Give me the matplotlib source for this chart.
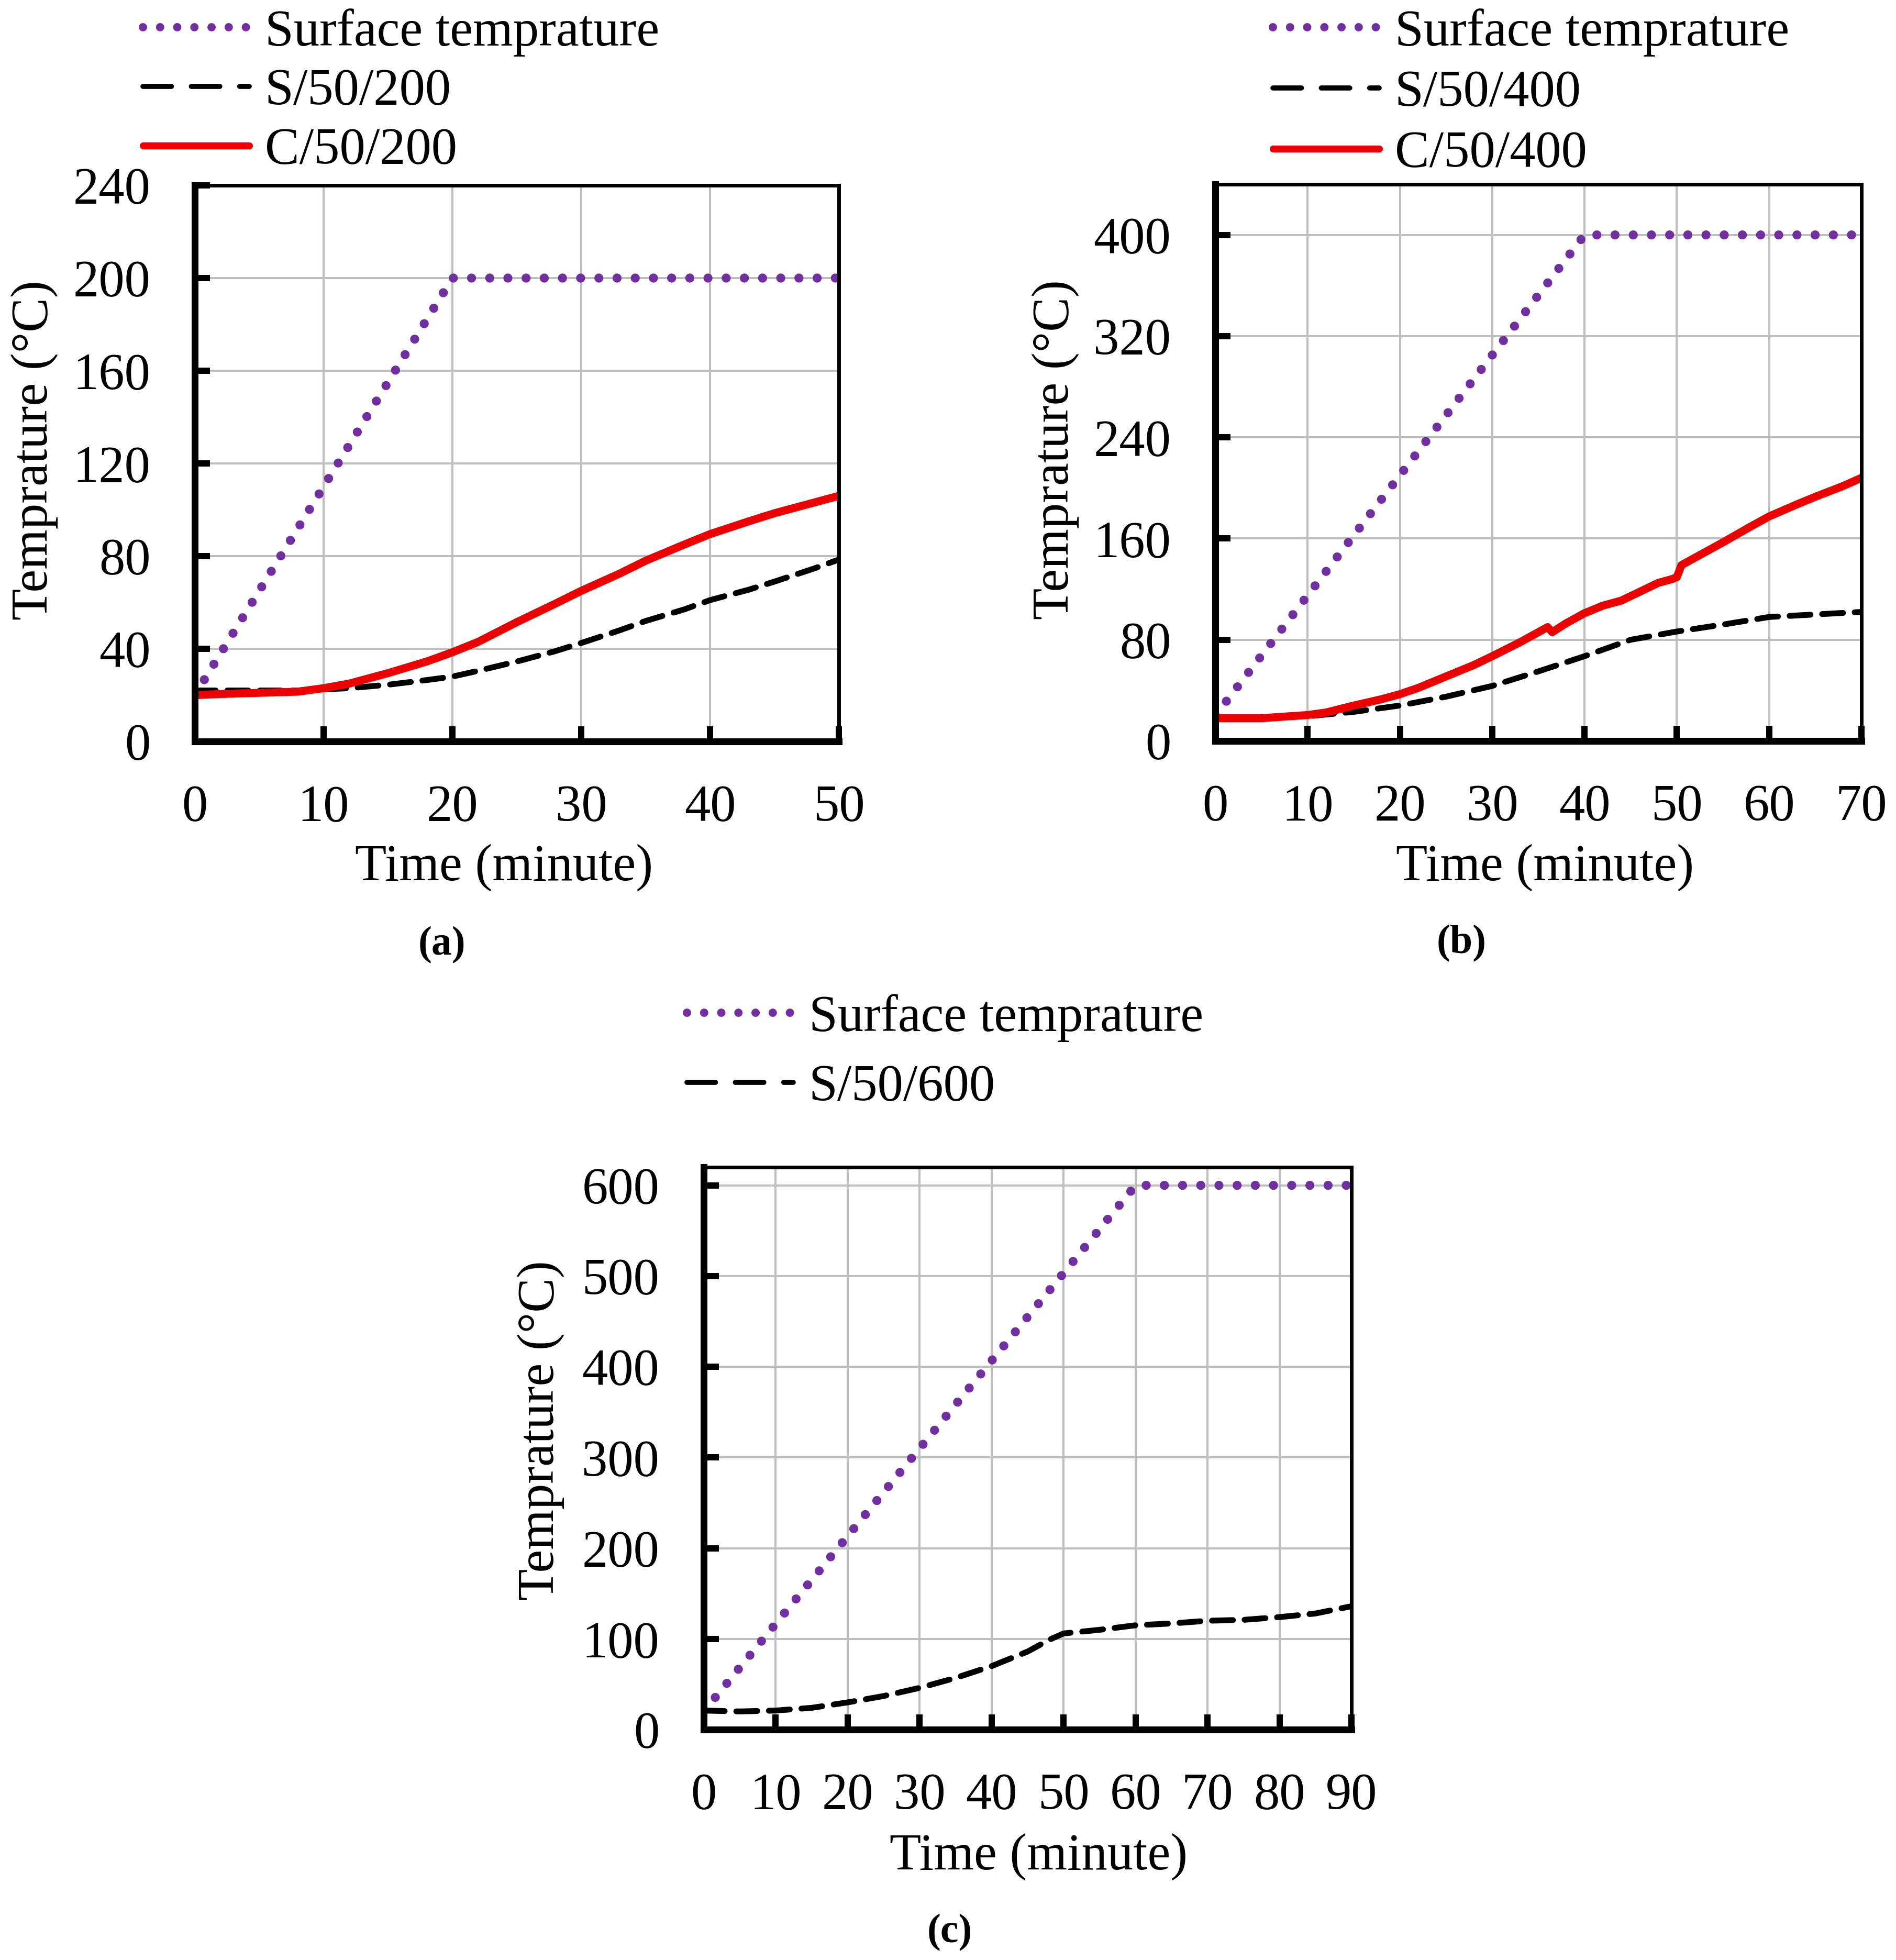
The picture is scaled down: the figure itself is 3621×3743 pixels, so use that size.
import matplotlib
matplotlib.use("Agg")
import matplotlib.pyplot as plt
from matplotlib.lines import Line2D

plt.rcParams['font.family'] = ['Liberation Serif', 'DejaVu Serif']

# ---------------- data ----------------
# Panel (a)
a_surf_t = [0, 20, 50]
a_surf_T = [20, 200, 200]
a_s_t = [0, 5, 8, 10, 12, 15, 18, 20, 22, 25, 28, 30, 33, 35, 38, 40, 43, 45, 48, 50]
a_s_T = [22, 22, 22, 22.5, 23, 24.5, 26.5, 28, 30.5, 34.5, 39, 42.5, 48, 52, 57, 61, 65.5, 69, 74.5, 78.5]
a_c_t = [0, 2, 5, 8, 10, 12, 15, 18, 20, 22, 25, 28, 30, 33, 35, 38, 40, 43, 45, 48, 50]
a_c_T = [20, 20.5, 21, 21.5, 23, 25, 29.5, 34.5, 38.5, 43, 51.5, 59.5, 65, 72.5, 78, 85, 89.5, 95, 98.5, 103, 106]

# Panel (b)
b_surf_t = [0, 40, 70]
b_surf_T = [20, 400, 400]
b_s_t = [0, 5, 10, 15, 20, 25, 30, 35, 40, 45, 50, 55, 60, 65, 70]
b_s_T = [18, 18.5, 19.5, 23, 28, 35, 43.5, 55, 67, 80, 86.5, 92, 98, 100, 102]
b_c_t = [0, 5, 10, 12, 15, 18, 20, 22, 25, 28, 30, 33, 35, 36, 36.5, 38, 40, 42, 44, 46, 48,
         49.5, 50, 50.5, 52, 55, 58, 60, 63, 65, 68, 70]
b_c_T = [18, 18, 20.5, 22.5, 28, 33, 37, 42, 51, 60, 67, 78, 86, 90, 86, 93, 101, 107, 111, 118, 125,
         128, 129.5, 139, 145, 157, 169.5, 177.5, 187, 193, 201.5, 208]

# Panel (c)
c_surf_t = [0, 60, 90]
c_surf_T = [20, 600, 600]
c_s_t = [0, 5, 10, 15, 20, 25, 30, 35, 40, 45, 48, 50, 55, 60, 65, 70, 75, 80, 85, 90]
c_s_T = [21, 20, 21, 24, 30, 37, 46, 57, 70, 86, 99, 106, 110, 115, 117, 120, 121, 124, 128, 136]

labels_a = ['Surface temprature', 'S/50/200', 'C/50/200']
labels_b = ['Surface temprature', 'S/50/400', 'C/50/400']
labels_c = ['Surface temprature', 'S/50/600']

xticks_a = [0, 10, 20, 30, 40, 50]
yticks_a = [0, 40, 80, 120, 160, 200, 240]
xticks_b = [0, 10, 20, 30, 40, 50, 60, 70]
yticks_b = [0, 80, 160, 240, 320, 400]
xticks_c = [0, 10, 20, 30, 40, 50, 60, 70, 80, 90]
yticks_c = [0, 100, 200, 300, 400, 500, 600]

# ---------------- style ----------------
W, H = 3621, 3743
DPI = 100
FS = 71
PURPLE = '#7030A0'
RED = '#EE0000'
GRID = '#BFBFBF'

fig = plt.figure(figsize=(W / DPI, H / DPI), dpi=DPI)


def px_ax(left, top, right, bottom):
    return fig.add_axes([left / W, 1 - bottom / H, (right - left) / W, (bottom - top) / H])


def style_axes(ax, xt, yt, xlim, ylim, xlab_pos, ylab_pos):
    ax.set_xlim(*xlim)
    ax.set_ylim(*ylim)
    ax.set_xticks(xt)
    ax.set_yticks(yt)
    ax.grid(True, color=GRID, linewidth=2.9)
    ax.set_axisbelow(True)
    for s in ('left', 'bottom'):
        ax.spines[s].set_linewidth(9.4)
    for s in ('top', 'right'):
        ax.spines[s].set_linewidth(5)
    ax.tick_params(direction='in', length=21, width=8.6, labelsize=FS, color='black')
    ax.tick_params(axis='y', pad=61)
    ax.tick_params(axis='x', pad=59)
    ax.set_xlabel('Time (minute)', fontsize=FS)
    ax.set_ylabel('Temprature (°C)', fontsize=FS)
    ax.xaxis.set_label_coords(*xlab_pos)
    ax.yaxis.set_label_coords(*ylab_pos)
    ax.xaxis.label.set_verticalalignment('center')
    ax.yaxis.label.set_verticalalignment('center')


surf_kw = dict(color=PURPLE, linewidth=12.5, linestyle=(0, (0.001, 2.0)), dash_capstyle='round')
s_kw = dict(color='black', linewidth=8, linestyle=(0, (3.6, 2.0)), dash_capstyle='round')
c_kw = dict(color=RED, linewidth=11, solid_capstyle='round')


def legend_handles(n):
    h = [Line2D([], [], color=PURPLE, linewidth=11.5, linestyle=(0, (0.001, 2.05)), dash_capstyle='round'),
         Line2D([], [], color='black', linewidth=7, linestyle=(0, (5.6, 3.9)), dash_capstyle='round'),
         Line2D([], [], color=RED, linewidth=9.5, solid_capstyle='round')]
    return h[:n]


def add_legend(ax, labels, x_px, top_px, spacing):
    ax.legend(legend_handles(len(labels)), labels, loc='upper left',
              bbox_to_anchor=(x_px / W, 1 - top_px / H), bbox_transform=fig.transFigure,
              frameon=False, borderpad=0, borderaxespad=0, fontsize=FS,
              handlelength=2.06, handletextpad=0.3, labelspacing=spacing)


# Panel (a)
ax_a = px_ax(372, 354, 1602, 1416)
ax_a.plot(a_surf_t, a_surf_T, **surf_kw)
ax_a.plot(a_s_t, a_s_T, **s_kw)
ax_a.plot(a_c_t, a_c_T, **c_kw)
style_axes(ax_a, xticks_a, yticks_a, (0, 50), (0, 240), (0.48, -0.227), (-0.249, 0.5235))
add_legend(ax_a, labels_a, 273, 16, 0.23)

# Panel (b)
ax_b = px_ax(2321, 352, 3555, 1415)
ax_b.plot(b_surf_t, b_surf_T, **surf_kw)
ax_b.plot(b_s_t, b_s_T, **s_kw)
ax_b.plot(b_c_t, b_c_T, **c_kw)
style_axes(ax_b, xticks_b, yticks_b, (0, 70), (0, 440), (0.51, -0.227), (-0.247, 0.5235))
add_legend(ax_b, labels_b, 2431, 16, 0.26)

# Panel (c)
ax_c = px_ax(1344, 2229, 2581, 3303)
ax_c.plot(c_surf_t, c_surf_T, **surf_kw)
ax_c.plot(c_s_t, c_s_T, **s_kw)
style_axes(ax_c, xticks_c, yticks_c, (0, 90), (0, 620), (0.517, -0.226), (-0.252, 0.532))
add_legend(ax_c, labels_c, 1312, 1898, 0.43)

# captions
for txt, x, y in (('(a)', 844, 1805), ('(b)', 2791, 1802), ('(c)', 1814, 3691)):
    fig.text(x / W, 1 - y / H, txt, ha='center', va='center', fontsize=56, fontweight='bold')

fig.savefig('out.png', dpi=DPI)
